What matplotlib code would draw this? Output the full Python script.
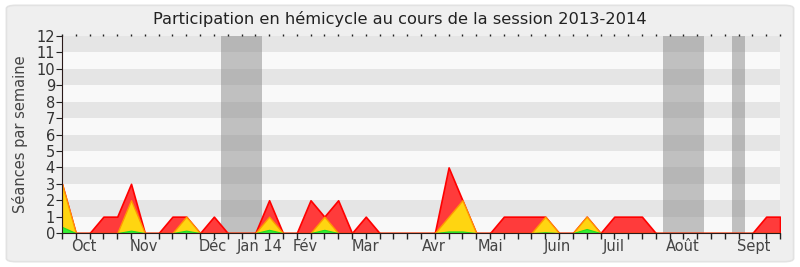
import matplotlib.pyplot as plt
import numpy as np
from matplotlib.patches import FancyBboxPatch

# === Data (one value per week, session 2013-2014)
weeks = np.arange(53)
total = [3, 0, 0, 1, 1, 3, 0, 0, 1, 1, 0, 1, 0, 0, 0, 2, 0, 0, 2, 1,
         2, 0, 1, 0, 0, 0, 0, 0, 4, 2, 0, 0, 1, 1, 1, 1, 0, 0, 1, 0,
         1, 1, 1, 0, 0, 0, 0, 0, 0, 0, 0, 1, 1]
yellow = [3, 0, 0, 0, 0, 2, 0, 0, 0, 1, 0, 0, 0, 0, 0, 1, 0, 0, 0, 1,
          0, 0, 0, 0, 0, 0, 0, 0, 1, 2, 0, 0, 0, 0, 0, 1, 0, 0, 1, 0,
          0, 0, 0, 0, 0, 0, 0, 0, 0, 0, 0, 0, 0]
green = [0.38, 0, 0, 0, 0, 0.15, 0, 0, 0, 0.15, 0, 0, 0, 0, 0, 0.2, 0, 0, 0, 0.2,
         0, 0, 0, 0, 0, 0, 0, 0, 0.1, 0.1, 0, 0, 0, 0, 0, 0.05, 0, 0, 0.25, 0,
         0, 0, 0, 0, 0, 0, 0, 0, 0, 0, 0, 0, 0]
vacations = [(11.5, 14.5), (43.5, 46.5), (48.5, 49.5)]
month_labels = ["Oct", "Nov", "Déc", "Jan 14", "Fév", "Mar", "Avr", "Mai",
                "Juin", "Juil", "Août", "Sept"]
month_pos = [1.55, 5.9, 10.95, 14.3, 17.6, 22.0, 26.9, 31.05, 35.85, 39.95, 44.95, 50.1]

fig = plt.figure(figsize=(8, 2.67), dpi=100)
fig.patch.set_facecolor("white")
fig.patches.append(FancyBboxPatch((0.008, 0.02), 0.984, 0.96, boxstyle="round,pad=0,rounding_size=0.012",
                                  transform=fig.transFigure, facecolor="#efefef",
                                  edgecolor="#e2e2e2", linewidth=1.2, zorder=-10))
ax = fig.add_axes([0.0775, 0.127, 0.8975, 0.738])
ax.set_facecolor("#f9f9f9")

# alternating bands
for y0 in range(1, 12, 2):
    ax.axhspan(y0, y0 + 1, color="#e5e5e5", lw=0, zorder=0)

for a, b in vacations:
    ax.axvspan(a, b, color="#888888", alpha=0.5, lw=0, zorder=1)

ax.fill_between(weeks, 0, total, facecolor="#ff3b3b", edgecolor="#ff0000", lw=1.2, zorder=2)
ax.fill_between(weeks, 0, yellow, facecolor="#ffd511", edgecolor="#ff9900", lw=1, zorder=3)
ax.fill_between(weeks, 0, green, facecolor="#33ee33", edgecolor="#22dd22", lw=0.8, zorder=4)

ax.set_xlim(0, 52)
ax.set_ylim(0, 12)
ax.set_yticks(range(13))
ax.set_xticks(weeks)
ax.set_xticklabels([])
ax.tick_params(axis="y", labelsize=10.5, length=4, color="#222222", labelcolor="#333333", pad=1)
ax.tick_params(axis="x", length=4, width=1, color="#222222", top=True)
for t in ax.xaxis.get_major_ticks():
    t.tick2line.set_markersize(1.5)
    t.tick2line.set_color("#222222")

for s in ["top", "right"]:
    ax.spines[s].set_visible(False)
for s in ["left", "bottom"]:
    ax.spines[s].set_color("#2a1a1a")
    ax.spines[s].set_zorder(6)

for lab, pos in zip(month_labels, month_pos):
    ax.text(pos, -0.35, lab, ha="center", va="top", fontsize=10.5, color="#444444")

ax.set_ylabel("Séances par semaine", fontsize=10.5, color="#444444", labelpad=6)
fig.suptitle("Participation en hémicycle au cours de la session 2013-2014",
             fontsize=11.7, color="#222222", y=0.96)

plt.savefig("out.png", dpi=100, facecolor=fig.get_facecolor())
